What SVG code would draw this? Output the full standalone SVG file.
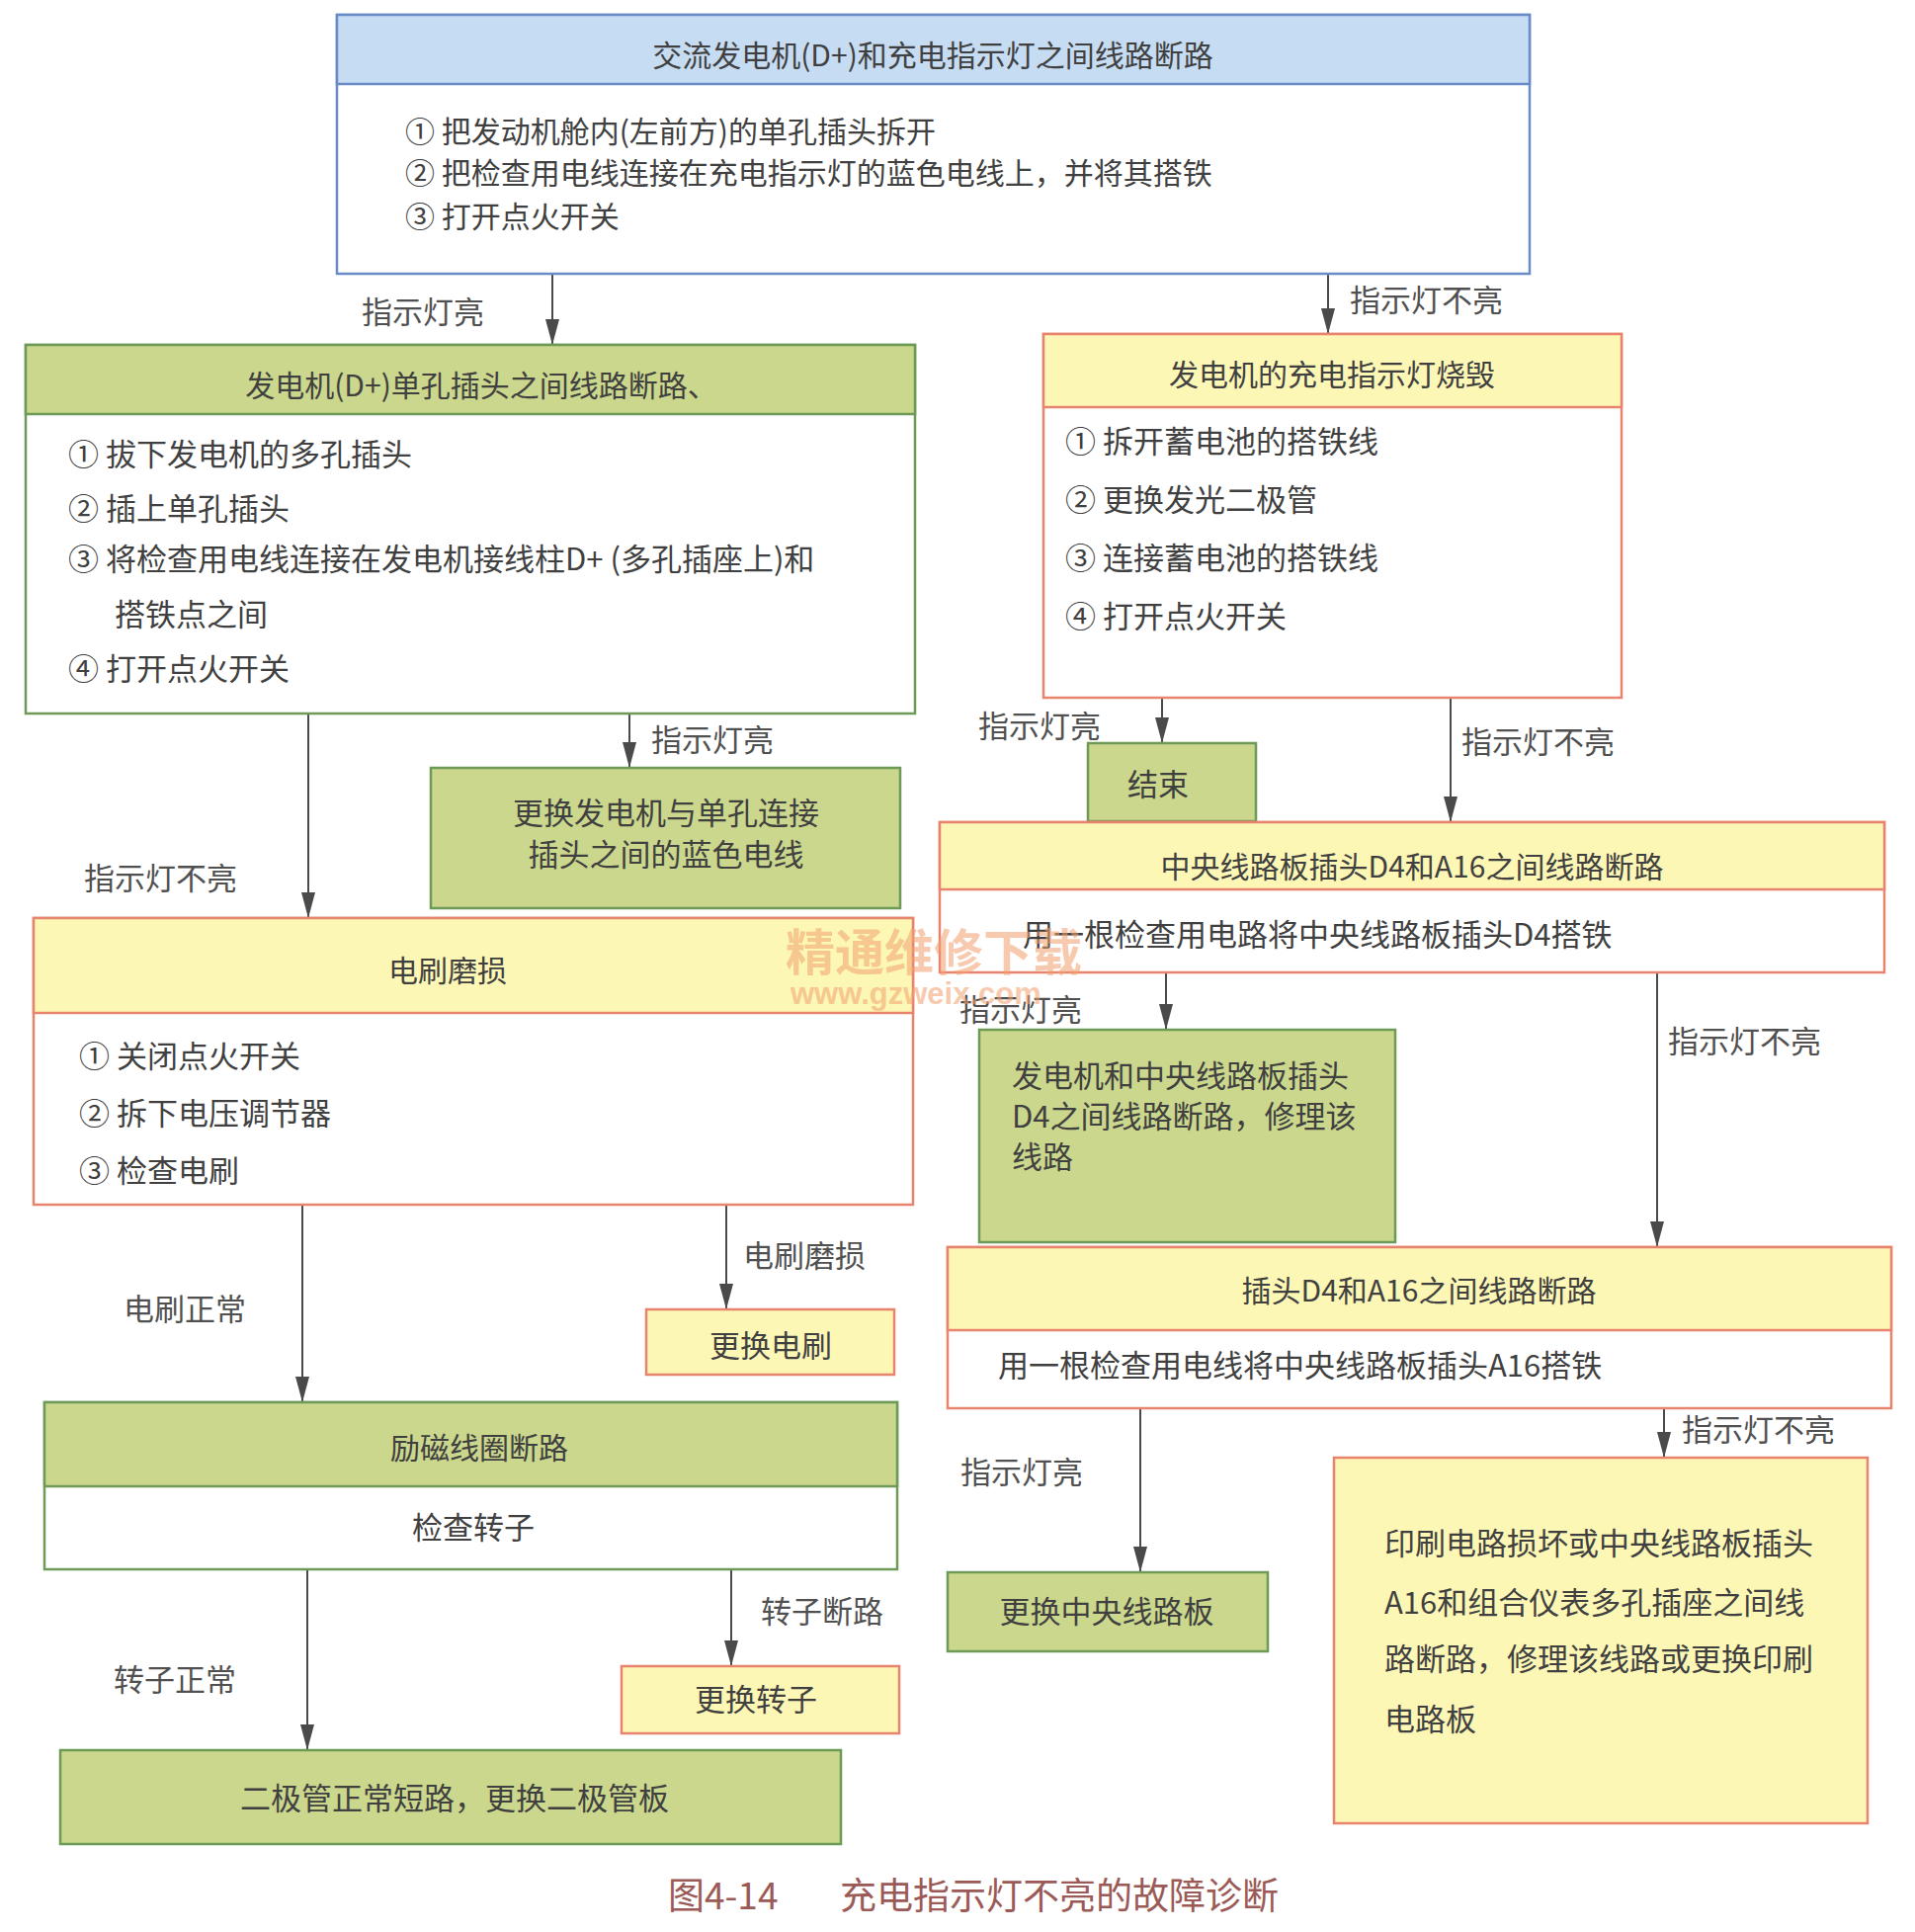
<svg xmlns="http://www.w3.org/2000/svg" width="1938" height="1955" viewBox="0 0 1938 1955">
<defs>
<style>
.t{font-family:"Noto Sans CJK SC","Liberation Sans",sans-serif;font-size:31px;fill:#404040}
.tt{font-family:"Noto Sans CJK SC","Liberation Sans",sans-serif;font-size:30px;fill:#404040}
.lb{font-family:"Noto Sans CJK SC","Liberation Sans",sans-serif;font-size:31px;fill:#505050}
.c{text-anchor:middle}
.blue{fill:#c6dcf2;stroke:#6a8cc6;stroke-width:2.5}
.green{fill:#cad78c;stroke:#6e9a58;stroke-width:2.5}
.yellow{fill:#fdf7b6;stroke:#e8846e;stroke-width:2.5}
.edge{stroke:#4a4a4a;stroke-width:2;fill:none;marker-end:url(#ah)}
</style>
<marker id="ah" viewBox="0 0 26 14" refX="26" refY="7" markerWidth="26" markerHeight="14" markerUnits="userSpaceOnUse" orient="auto">
<path d="M0,0 L26,7 L0,14 Z" fill="#4a4a4a"/>
</marker>
</defs>
<rect width="1938" height="1955" fill="#ffffff"/>

<g id="connectors">
<line class="edge" x1="559" y1="277" x2="559" y2="349"/>
<text class="lb" x="366" y="327">指示灯亮</text>
<line class="edge" x1="1344" y1="277" x2="1344" y2="338"/>
<text class="lb" x="1366" y="315">指示灯不亮</text>
<line class="edge" x1="312" y1="722" x2="312" y2="929"/>
<text class="lb" x="85" y="900">指示灯不亮</text>
<line class="edge" x1="637" y1="716" x2="637" y2="777"/>
<text class="lb" x="659" y="760">指示灯亮</text>
<line class="edge" x1="306" y1="1219" x2="306" y2="1419"/>
<text class="lb" x="125" y="1336">电刷正常</text>
<line class="edge" x1="735" y1="1212" x2="735" y2="1325"/>
<text class="lb" x="752" y="1282">电刷磨损</text>
<line class="edge" x1="311" y1="1588" x2="311" y2="1771"/>
<text class="lb" x="115" y="1711">转子正常</text>
<line class="edge" x1="740" y1="1582" x2="740" y2="1686"/>
<text class="lb" x="770" y="1642">转子断路</text>
<line class="edge" x1="1176" y1="706" x2="1176" y2="752"/>
<text class="lb" x="990" y="746">指示灯亮</text>
<line class="edge" x1="1468" y1="706" x2="1468" y2="832"/>
<text class="lb" x="1479" y="762">指示灯不亮</text>
<line class="edge" x1="1180" y1="984" x2="1180" y2="1042"/>
<text class="lb" x="971" y="1033">指示灯亮</text>
<line class="edge" x1="1677" y1="984" x2="1677" y2="1262"/>
<text class="lb" x="1688" y="1065">指示灯不亮</text>
<line class="edge" x1="1154" y1="1425" x2="1154" y2="1591"/>
<text class="lb" x="972" y="1501">指示灯亮</text>
<line class="edge" x1="1684" y1="1425" x2="1684" y2="1475"/>
<text class="lb" x="1702" y="1458">指示灯不亮</text>
</g>

<g id="n1">
<rect class="blue" x="341" y="15" width="1207" height="262" style="fill:#fff"/>
<rect class="blue" x="341" y="15" width="1207" height="70"/>
<text class="tt c" x="944" y="67">交流发电机(D+)和充电指示灯之间线路断路</text>
<text class="tt" x="410" y="144">① 把发动机舱内(左前方)的单孔插头拆开</text>
<text class="tt" x="410" y="186">② 把检查用电线连接在充电指示灯的蓝色电线上，并将其搭铁</text>
<text class="tt" x="410" y="230">③ 打开点火开关</text>
</g>

<g id="n2">
<rect class="green" x="26" y="349" width="900" height="373" style="fill:#fff"/>
<rect class="green" x="26" y="349" width="900" height="70"/>
<text class="tt c" x="487" y="401">发电机(D+)单孔插头之间线路断路、</text>
<text class="t" x="69" y="471">① 拔下发电机的多孔插头</text>
<text class="t" x="69" y="526">② 插上单孔插头</text>
<text class="t" x="69" y="577">③ 将检查用电线连接在发电机接线柱D+ (多孔插座上)和</text>
<text class="t" x="116" y="633">搭铁点之间</text>
<text class="t" x="69" y="688">④ 打开点火开关</text>
</g>

<g id="n3">
<rect class="green" x="436" y="777" width="475" height="142"/>
<text class="t c" x="674" y="834">更换发电机与单孔连接</text>
<text class="t c" x="674" y="876">插头之间的蓝色电线</text>
</g>

<g id="n4">
<rect class="yellow" x="34" y="929" width="890" height="290" style="fill:#fff"/>
<rect class="yellow" x="34" y="929" width="890" height="96"/>
<text class="tt c" x="453" y="993">电刷磨损</text>
<text class="t" x="80" y="1080">① 关闭点火开关</text>
<text class="t" x="80" y="1138">② 拆下电压调节器</text>
<text class="t" x="80" y="1196">③ 检查电刷</text>
</g>

<g id="n5">
<rect class="yellow" x="654" y="1325" width="251" height="66"/>
<text class="t c" x="780" y="1373">更换电刷</text>
</g>

<g id="n6">
<rect class="green" x="45" y="1419" width="863" height="169" style="fill:#fff"/>
<rect class="green" x="45" y="1419" width="863" height="85"/>
<text class="tt c" x="485" y="1476">励磁线圈断路</text>
<text class="t c" x="479" y="1557">检查转子</text>
</g>

<g id="n7">
<rect class="yellow" x="629" y="1686" width="281" height="68"/>
<text class="t c" x="765" y="1731">更换转子</text>
</g>

<g id="n8">
<rect class="green" x="61" y="1771" width="790" height="95"/>
<text class="t c" x="460" y="1831">二极管正常短路，更换二极管板</text>
</g>

<g id="n9">
<rect class="yellow" x="1056" y="338" width="585" height="368" style="fill:#fff"/>
<rect class="yellow" x="1056" y="338" width="585" height="74"/>
<text class="tt c" x="1348" y="390">发电机的充电指示灯烧毁</text>
<text class="t" x="1078" y="458">① 拆开蓄电池的搭铁线</text>
<text class="t" x="1078" y="517">② 更换发光二极管</text>
<text class="t" x="1078" y="576">③ 连接蓄电池的搭铁线</text>
<text class="t" x="1078" y="635">④ 打开点火开关</text>
</g>

<g id="n10">
<rect class="green" x="1101" y="752" width="170" height="79"/>
<text class="t c" x="1172" y="805">结束</text>
</g>

<g id="n11">
<rect class="yellow" x="951" y="832" width="956" height="152" style="fill:#fff"/>
<rect class="yellow" x="951" y="832" width="956" height="68"/>
<text class="tt c" x="1429" y="888">中央线路板插头D4和A16之间线路断路</text>
<text class="t" x="1035" y="957">用一根检查用电路将中央线路板插头D4搭铁</text>
</g>

<g id="n12">
<rect class="green" x="991" y="1042" width="421" height="215"/>
<text class="t" x="1024" y="1100">发电机和中央线路板插头</text>
<text class="t" x="1024" y="1141">D4之间线路断路，修理该</text>
<text class="t" x="1024" y="1182">线路</text>
</g>

<g id="n13">
<rect class="yellow" x="959" y="1262" width="955" height="163" style="fill:#fff"/>
<rect class="yellow" x="959" y="1262" width="955" height="84"/>
<text class="tt c" x="1436" y="1317">插头D4和A16之间线路断路</text>
<text class="t" x="1010" y="1393">用一根检查用电线将中央线路板插头A16搭铁</text>
</g>

<g id="n14">
<rect class="green" x="959" y="1591" width="324" height="80"/>
<text class="t c" x="1120" y="1642">更换中央线路板</text>
</g>

<g id="n15">
<rect class="yellow" x="1350" y="1475" width="540" height="370"/>
<text class="t" x="1401" y="1573">印刷电路损坏或中央线路板插头</text>
<text class="t" x="1401" y="1633">A16和组合仪表多孔插座之间线</text>
<text class="t" x="1401" y="1690">路断路，修理该线路或更换印刷</text>
<text class="t" x="1401" y="1751">电路板</text>
</g>

<g id="watermark" opacity="0.55">
<text x="795" y="982" style="font-family:'Noto Sans CJK SC',sans-serif;font-size:50px;font-weight:bold;fill:#f2a06e">精通维修下载</text>
<text x="800" y="1016" style="font-family:'Liberation Sans',sans-serif;font-size:31px;font-weight:bold;fill:#f2a06e">www.gzweix.com</text>
</g>

<g id="caption">
<text x="676" y="1932" style="font-family:'Noto Sans CJK SC','Liberation Sans',sans-serif;font-size:37px;fill:#9b5a56">图4-14</text>
<text x="850" y="1932" style="font-family:'Noto Sans CJK SC','Liberation Sans',sans-serif;font-size:37px;fill:#9b5a56">充电指示灯不亮的故障诊断</text>
</g>
</svg>
